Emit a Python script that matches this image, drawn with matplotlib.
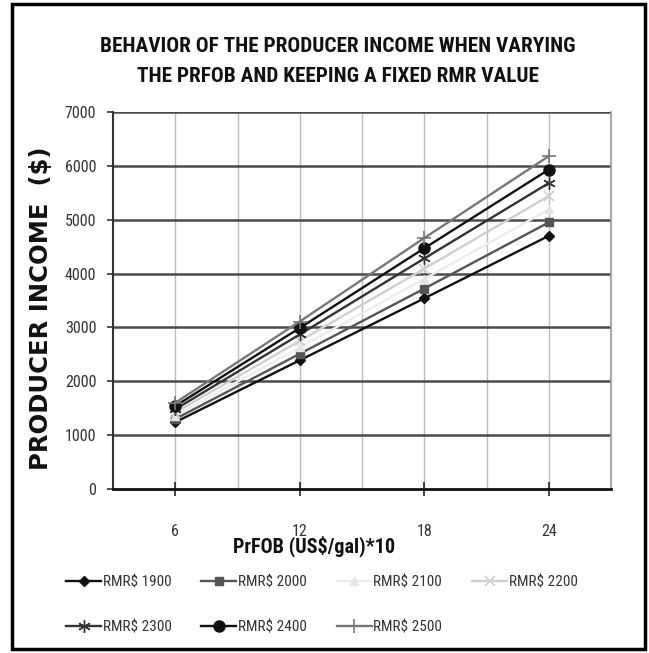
import matplotlib
matplotlib.use("Agg")
import matplotlib.pyplot as plt
from matplotlib.patches import Rectangle
import numpy as np
import logging
logging.getLogger("matplotlib.font_manager").setLevel(logging.ERROR)

# ---- data ----
prfob_labels = ["6", "12", "18", "24"]
rmr_1900 = [1240, 2390, 3540, 4700]
rmr_2000 = [1300, 2510, 3720, 4950]
rmr_2100 = [1360, 2630, 3900, 5190]
rmr_2200 = [1420, 2750, 4090, 5440]
rmr_2300 = [1480, 2870, 4280, 5680]
rmr_2400 = [1540, 2990, 4470, 5930]
rmr_2500 = [1600, 3110, 4660, 6180]
series_names = ["RMR$ 1900", "RMR$ 2000", "RMR$ 2100", "RMR$ 2200",
                "RMR$ 2300", "RMR$ 2400", "RMR$ 2500"]
series_values = [rmr_1900, rmr_2000, rmr_2100, rmr_2200, rmr_2300, rmr_2400, rmr_2500]
y_ticks = [0, 1000, 2000, 3000, 4000, 5000, 6000, 7000]

NARROW = ["Roboto Condensed", "Archivo Narrow", "PT Sans Narrow", "Pragati Narrow", "Liberation Sans"]

styles = [
    dict(color="#111111", marker="D", ms=5, mfc="#111111", mec="#111111"),
    dict(color="#555555", marker="s", ms=6, mfc="#555555", mec="#555555"),
    dict(color="#ececec", marker="^", ms=6, mfc="#e4e4e4", mec="#e4e4e4"),
    dict(color="#cfcfcf", marker="x", ms=7, mfc="#cfcfcf", mec="#cfcfcf", mew=1.2),
    dict(color="#333333", marker=(6, 2, 0), ms=9, mfc="#333333", mec="#333333", mew=1.0),
    dict(color="#111111", marker="o", ms=8, mfc="#111111", mec="#111111"),
    dict(color="#777777", marker="+", ms=10, mfc="#777777", mec="#777777", mew=1.2),
]

fig = plt.figure(figsize=(6.49, 6.53), dpi=100)
fig.patch.set_facecolor("white")
ax = fig.add_axes([113/649, 1-489/653, (611-113)/649, (489-112)/653])

x = np.arange(len(prfob_labels))
for name, vals, st in zip(series_names, series_values, styles):
    ax.plot(x, vals, label=name, lw=1.7, zorder=3, **st)

ax.set_xlim(-0.5, len(prfob_labels) - 0.5)
ax.set_ylim(0, 7000)

# gridlines
for xv in np.arange(0, len(prfob_labels) - 0.4, 0.5):
    ax.axvline(xv, color="#bdbdbd", lw=1.0, zorder=1)
for yv in y_ticks[1:]:
    ax.axhline(yv, color="#4a4a4a", lw=1.8, zorder=1)

ax.set_xticks(x)
ax.set_xticklabels(prfob_labels, fontsize=11.5, family=NARROW, color="#333333")
ax.set_yticks(y_ticks)
ax.set_yticklabels([str(v) for v in y_ticks], fontsize=11.5, family=NARROW, color="#333333")
ax.tick_params(axis="x", direction="inout", length=10, width=1.2, pad=20, color="#222222")
ax.tick_params(axis="y", direction="out", length=4, width=1.2, pad=8, color="#333333")

ax.spines["top"].set_visible(False)
ax.spines["right"].set_color("#999999")
ax.spines["right"].set_linewidth(1.2)
ax.spines["left"].set_color("#333333")
ax.spines["left"].set_linewidth(1.5)
ax.spines["bottom"].set_color("#111111")
ax.spines["bottom"].set_linewidth(2.0)
ax.spines["bottom"].set_zorder(4)

# titles / labels
fig.text(338/649, 1-46/653, "BEHAVIOR OF THE PRODUCER INCOME WHEN VARYING",
         ha="center", va="center", fontsize=15.3, fontweight="bold", family=NARROW, color="#111111")
fig.text(338/649, 1-77/653, "THE PRFOB AND KEEPING A FIXED RMR VALUE",
         ha="center", va="center", fontsize=15.3, fontweight="bold", family=NARROW, color="#111111")
fig.text(41/649, 1-308/653, "PRODUCER INCOME  ($)", rotation=90,
         ha="center", va="center", fontsize=17.5, fontweight="bold", family=["DejaVu Sans"], color="#111111")
fig.text(314/649, 1-546/653, "PrFOB (US$/gal)*10",
         ha="center", va="center", fontsize=14.5, fontweight="bold", family=NARROW, color="#111111")

handles, labels = ax.get_legend_handles_labels()
order = [0, 4, 1, 5, 2, 6, 3]  # row-wise fill for a 4-column legend
leg = fig.legend([handles[i] for i in order], [labels[i] for i in order],
                 loc="center left", bbox_to_anchor=(66/649, 1-605/653),
                 ncol=4, frameon=False, prop={"family": NARROW, "size": 11},
                 handlelength=2.3, handletextpad=0.1, columnspacing=1.95,
                 labelspacing=2.0, borderpad=0, borderaxespad=0)
for t in leg.get_texts():
    t.set_color("#333333")

fig.patches.append(Rectangle((12/649, 4/653), (645-12)/649, (649-4)/653,
                             transform=fig.transFigure, fill=False, lw=2.5, ec="black"))

fig.savefig("out.png", dpi=100)
